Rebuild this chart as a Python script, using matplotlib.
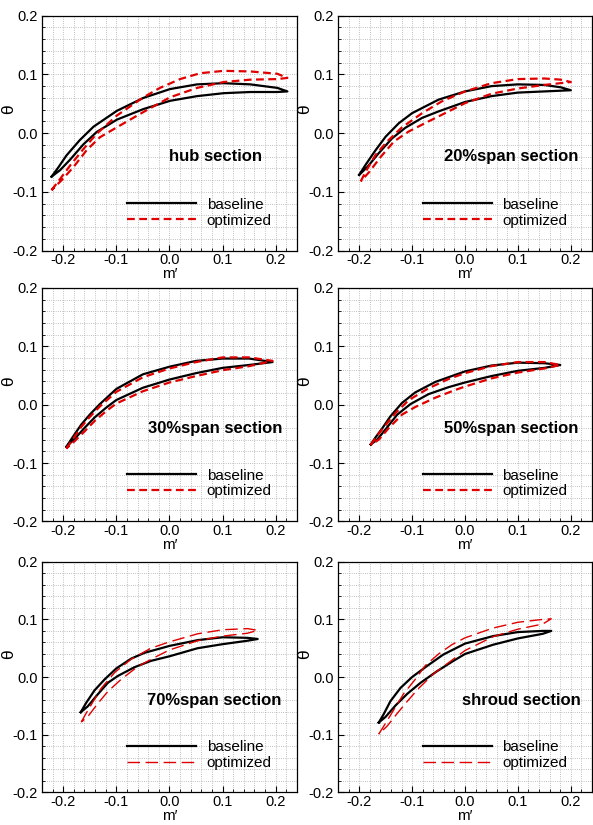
import numpy as np
import matplotlib
matplotlib.use("Agg")
import matplotlib.pyplot as plt
from matplotlib.ticker import MultipleLocator, FormatStrFormatter

plt.rcParams['font.family'] = ['Liberation Sans', 'DejaVu Sans']
plt.rcParams['axes.unicode_minus'] = False

# profile points (m', theta), suction side (ss) and pressure side (ps), LE -> TE
hub_base_ss = [(-0.222, -0.074), (-0.209, -0.058), (-0.194, -0.038), (-0.169, -0.012), (-0.143, 0.011),
               (-0.099, 0.038), (-0.049, 0.060), (0.001, 0.075), (0.052, 0.083), (0.102, 0.085),
               (0.152, 0.083), (0.203, 0.077), (0.222, 0.071)]
hub_base_ps = [(-0.222, -0.074), (-0.206, -0.063), (-0.187, -0.045), (-0.162, -0.019), (-0.137, 0.002),
               (-0.099, 0.023), (-0.049, 0.041), (0.001, 0.055), (0.052, 0.063), (0.102, 0.068),
               (0.152, 0.070), (0.203, 0.070), (0.222, 0.071)]
hub_opt_ss = [(-0.222, -0.097), (-0.206, -0.078), (-0.187, -0.055), (-0.162, -0.027), (-0.137, -0.001),
              (-0.099, 0.030), (-0.049, 0.061), (-0.018, 0.077), (0.020, 0.092), (0.058, 0.102),
              (0.102, 0.106), (0.152, 0.105), (0.203, 0.101), (0.222, 0.094)]
hub_opt_ps = [(-0.222, -0.097), (-0.203, -0.080), (-0.181, -0.058), (-0.156, -0.029), (-0.131, -0.007),
              (-0.099, 0.010), (-0.049, 0.036), (0.001, 0.061), (0.052, 0.077), (0.102, 0.087),
              (0.152, 0.091), (0.203, 0.092), (0.222, 0.094)]

s20_base_ss = [(-0.200, -0.071), (-0.188, -0.054), (-0.169, -0.029), (-0.150, -0.006), (-0.125, 0.017),
               (-0.100, 0.034), (-0.050, 0.057), (0.000, 0.071), (0.050, 0.080), (0.100, 0.083),
               (0.150, 0.082), (0.181, 0.078), (0.200, 0.073)]
s20_base_ps = [(-0.200, -0.071), (-0.184, -0.057), (-0.163, -0.034), (-0.138, -0.009), (-0.113, 0.009),
               (-0.081, 0.026), (-0.050, 0.037), (0.000, 0.053), (0.050, 0.063), (0.100, 0.069),
               (0.150, 0.071), (0.200, 0.073)]
s20_opt_ss = [(-0.197, -0.082), (-0.188, -0.066), (-0.169, -0.037), (-0.147, -0.014), (-0.119, 0.010),
              (-0.081, 0.034), (-0.044, 0.054), (0.000, 0.071), (0.050, 0.085), (0.100, 0.092),
              (0.150, 0.093), (0.181, 0.091), (0.200, 0.087)]
s20_opt_ps = [(-0.197, -0.082), (-0.181, -0.066), (-0.159, -0.040), (-0.134, -0.014), (-0.106, 0.003),
              (-0.069, 0.020), (-0.031, 0.037), (0.000, 0.051), (0.050, 0.067), (0.100, 0.076),
              (0.150, 0.082), (0.200, 0.087)]

s30_base_ss = [(-0.194, -0.072), (-0.181, -0.054), (-0.166, -0.034), (-0.150, -0.017), (-0.131, 0.001),
               (-0.100, 0.027), (-0.050, 0.052), (0.000, 0.065), (0.050, 0.075), (0.100, 0.079),
               (0.150, 0.079), (0.194, 0.073)]
s30_base_ps = [(-0.194, -0.072), (-0.178, -0.058), (-0.159, -0.039), (-0.141, -0.022), (-0.119, -0.005),
               (-0.100, 0.008), (-0.050, 0.029), (0.000, 0.043), (0.050, 0.054), (0.100, 0.063),
               (0.150, 0.068), (0.194, 0.073)]
s30_opt_ss = [(-0.194, -0.075), (-0.181, -0.058), (-0.166, -0.038), (-0.150, -0.021), (-0.131, -0.003),
              (-0.100, 0.022), (-0.050, 0.047), (0.000, 0.062), (0.050, 0.073), (0.100, 0.081),
              (0.150, 0.081), (0.194, 0.075)]
s30_opt_ps = [(-0.194, -0.075), (-0.178, -0.062), (-0.159, -0.045), (-0.141, -0.028), (-0.119, -0.011),
              (-0.100, 0.002), (-0.050, 0.023), (0.000, 0.038), (0.050, 0.049), (0.100, 0.059),
              (0.150, 0.066), (0.194, 0.075)]

s50_base_ss = [(-0.178, -0.068), (-0.169, -0.056), (-0.156, -0.040), (-0.141, -0.020), (-0.119, 0.003),
               (-0.094, 0.021), (-0.056, 0.039), (0.000, 0.057), (0.050, 0.067), (0.100, 0.072),
               (0.150, 0.071), (0.180, 0.068)]
s50_base_ps = [(-0.178, -0.068), (-0.166, -0.060), (-0.150, -0.042), (-0.128, -0.017), (-0.103, 0.001),
               (-0.069, 0.018), (-0.031, 0.030), (0.000, 0.038), (0.050, 0.049), (0.100, 0.058),
               (0.150, 0.063), (0.180, 0.068)]
s50_opt_ss = [(-0.178, -0.069), (-0.166, -0.053), (-0.150, -0.035), (-0.131, -0.014), (-0.106, 0.008),
              (-0.069, 0.028), (-0.031, 0.044), (0.000, 0.054), (0.050, 0.066), (0.100, 0.073),
              (0.150, 0.073), (0.180, 0.068)]
s50_opt_ps = [(-0.178, -0.069), (-0.163, -0.060), (-0.144, -0.040), (-0.119, -0.017), (-0.094, -0.004),
              (-0.056, 0.012), (-0.019, 0.025), (0.000, 0.031), (0.050, 0.045), (0.100, 0.055),
              (0.150, 0.062), (0.180, 0.068)]

s70_base_ss = [(-0.167, -0.061), (-0.157, -0.045), (-0.141, -0.023), (-0.122, -0.004), (-0.100, 0.015),
               (-0.072, 0.032), (-0.047, 0.042), (0.000, 0.054), (0.053, 0.064), (0.100, 0.069),
               (0.147, 0.068), (0.166, 0.066)]
s70_base_ps = [(-0.167, -0.061), (-0.154, -0.051), (-0.135, -0.030), (-0.116, -0.010), (-0.097, 0.002),
               (-0.066, 0.017), (-0.035, 0.028), (0.000, 0.036), (0.053, 0.050), (0.100, 0.057),
               (0.147, 0.063), (0.166, 0.066)]
s70_opt_ss = [(-0.166, -0.078), (-0.157, -0.063), (-0.144, -0.043), (-0.129, -0.020), (-0.103, 0.008),
              (-0.072, 0.031), (-0.035, 0.050), (0.000, 0.061), (0.053, 0.075), (0.100, 0.082),
              (0.147, 0.084), (0.166, 0.081)]
s70_opt_ps = [(-0.166, -0.078), (-0.154, -0.069), (-0.135, -0.046), (-0.116, -0.025), (-0.091, -0.004),
              (-0.060, 0.018), (-0.028, 0.034), (0.000, 0.047), (0.053, 0.063), (0.100, 0.071),
              (0.147, 0.076), (0.166, 0.081)]

shr_base_ss = [(-0.163, -0.079), (-0.154, -0.065), (-0.141, -0.042), (-0.122, -0.019), (-0.100, 0.000),
               (-0.072, 0.019), (-0.041, 0.039), (0.000, 0.058), (0.053, 0.071), (0.100, 0.078),
               (0.147, 0.080), (0.163, 0.080)]
shr_base_ps = [(-0.163, -0.079), (-0.150, -0.069), (-0.131, -0.049), (-0.109, -0.029), (-0.084, -0.010),
               (-0.053, 0.010), (-0.022, 0.028), (0.000, 0.040), (0.053, 0.056), (0.100, 0.067),
               (0.147, 0.075), (0.163, 0.080)]
shr_opt_ss = [(-0.163, -0.099), (-0.150, -0.080), (-0.134, -0.056), (-0.116, -0.029), (-0.094, -0.004),
              (-0.075, 0.020), (-0.050, 0.040), (-0.025, 0.056), (0.000, 0.068), (0.053, 0.085),
              (0.100, 0.095), (0.147, 0.100), (0.163, 0.101)]
shr_opt_ps = [(-0.163, -0.099), (-0.147, -0.085), (-0.128, -0.063), (-0.109, -0.042), (-0.088, -0.020),
              (-0.059, 0.006), (-0.028, 0.027), (0.000, 0.046), (0.053, 0.070), (0.100, 0.083),
              (0.147, 0.092), (0.163, 0.101)]

titles = ['hub section', '20%span section', '30%span section',
          '50%span section', '70%span section', 'shroud section']
title_x = [0.0, -0.04, -0.04, -0.04, -0.043, -0.006]
sections = [
    (hub_base_ss, hub_base_ps, hub_opt_ss, hub_opt_ps),
    (s20_base_ss, s20_base_ps, s20_opt_ss, s20_opt_ps),
    (s30_base_ss, s30_base_ps, s30_opt_ss, s30_opt_ps),
    (s50_base_ss, s50_base_ps, s50_opt_ss, s50_opt_ps),
    (s70_base_ss, s70_base_ps, s70_opt_ss, s70_opt_ps),
    (shr_base_ss, shr_base_ps, shr_opt_ss, shr_opt_ps),
]

# axes rectangles in figure fraction (left, bottom, width, height)
col_left = [0.0708, 0.5700]
col_w = [0.4300, 0.4283]
row_bottom = [0.6961, 0.3680, 0.0396]
row_h = [0.2850, 0.2830, 0.2795]

red = '#e00000'


def loop(ss, ps):
    pts = np.array(ss + ps[::-1])
    return pts[:, 0], pts[:, 1]


fig = plt.figure(figsize=(5.93, 8.25), dpi=100)

for i, (base_ss, base_ps, opt_ss, opt_ps) in enumerate(sections):
    r, c = divmod(i, 2)
    ax = fig.add_axes([col_left[c], row_bottom[r], col_w[c], row_h[r]])

    # bottom row uses a thinner, longer dash for the optimized blade
    if r < 2:
        opt_kw = dict(lw=1.6, linestyle=(0, (3.5, 2.0)))
    else:
        opt_kw = dict(lw=1.0, linestyle=(0, (9, 4)))

    bx, by = loop(base_ss, base_ps)
    ox, oy = loop(opt_ss, opt_ps)
    ax.plot(bx, by, color='black', lw=1.6, label='baseline', zorder=3,
            solid_joinstyle='round')
    ax.plot(ox, oy, color=red, label='optimized', zorder=4, **opt_kw)

    ax.set_xlim(-0.24, 0.24)
    ax.set_ylim(-0.2, 0.2)
    ax.xaxis.set_major_locator(MultipleLocator(0.1))
    ax.xaxis.set_minor_locator(MultipleLocator(0.02))
    ax.yaxis.set_major_locator(MultipleLocator(0.1))
    ax.yaxis.set_minor_locator(MultipleLocator(0.02))
    ax.xaxis.set_major_formatter(FormatStrFormatter('%.1f'))
    ax.yaxis.set_major_formatter(FormatStrFormatter('%.1f'))
    ax.grid(True, which='both', linestyle=':', color='#aaaaaa', lw=0.6)
    ax.set_axisbelow(True)
    ax.tick_params(which='major', direction='in', length=4, width=0.8, labelsize=10.5)
    ax.tick_params(which='minor', direction='in', length=2, width=0.6)
    ax.tick_params(axis='x', pad=2)
    ax.tick_params(axis='y', pad=3)
    for sp in ax.spines.values():
        sp.set_linewidth(0.9)

    ax.set_xlabel('m\u2032', fontsize=11, labelpad=0)
    ax.set_ylabel('\u03b8', fontsize=12.5)
    ax.yaxis.set_label_coords(-0.1, 0.6)

    ax.text(title_x[i], -0.04, titles[i], fontsize=12, fontweight='bold',
            ha='left', va='center')
    ax.legend(loc='center left', bbox_to_anchor=(0.335, 0.162), frameon=False,
              fontsize=11, handlelength=4.5, handletextpad=0.7, labelspacing=0.12,
              borderpad=0, borderaxespad=0)

fig.savefig('out.png', dpi=100)
